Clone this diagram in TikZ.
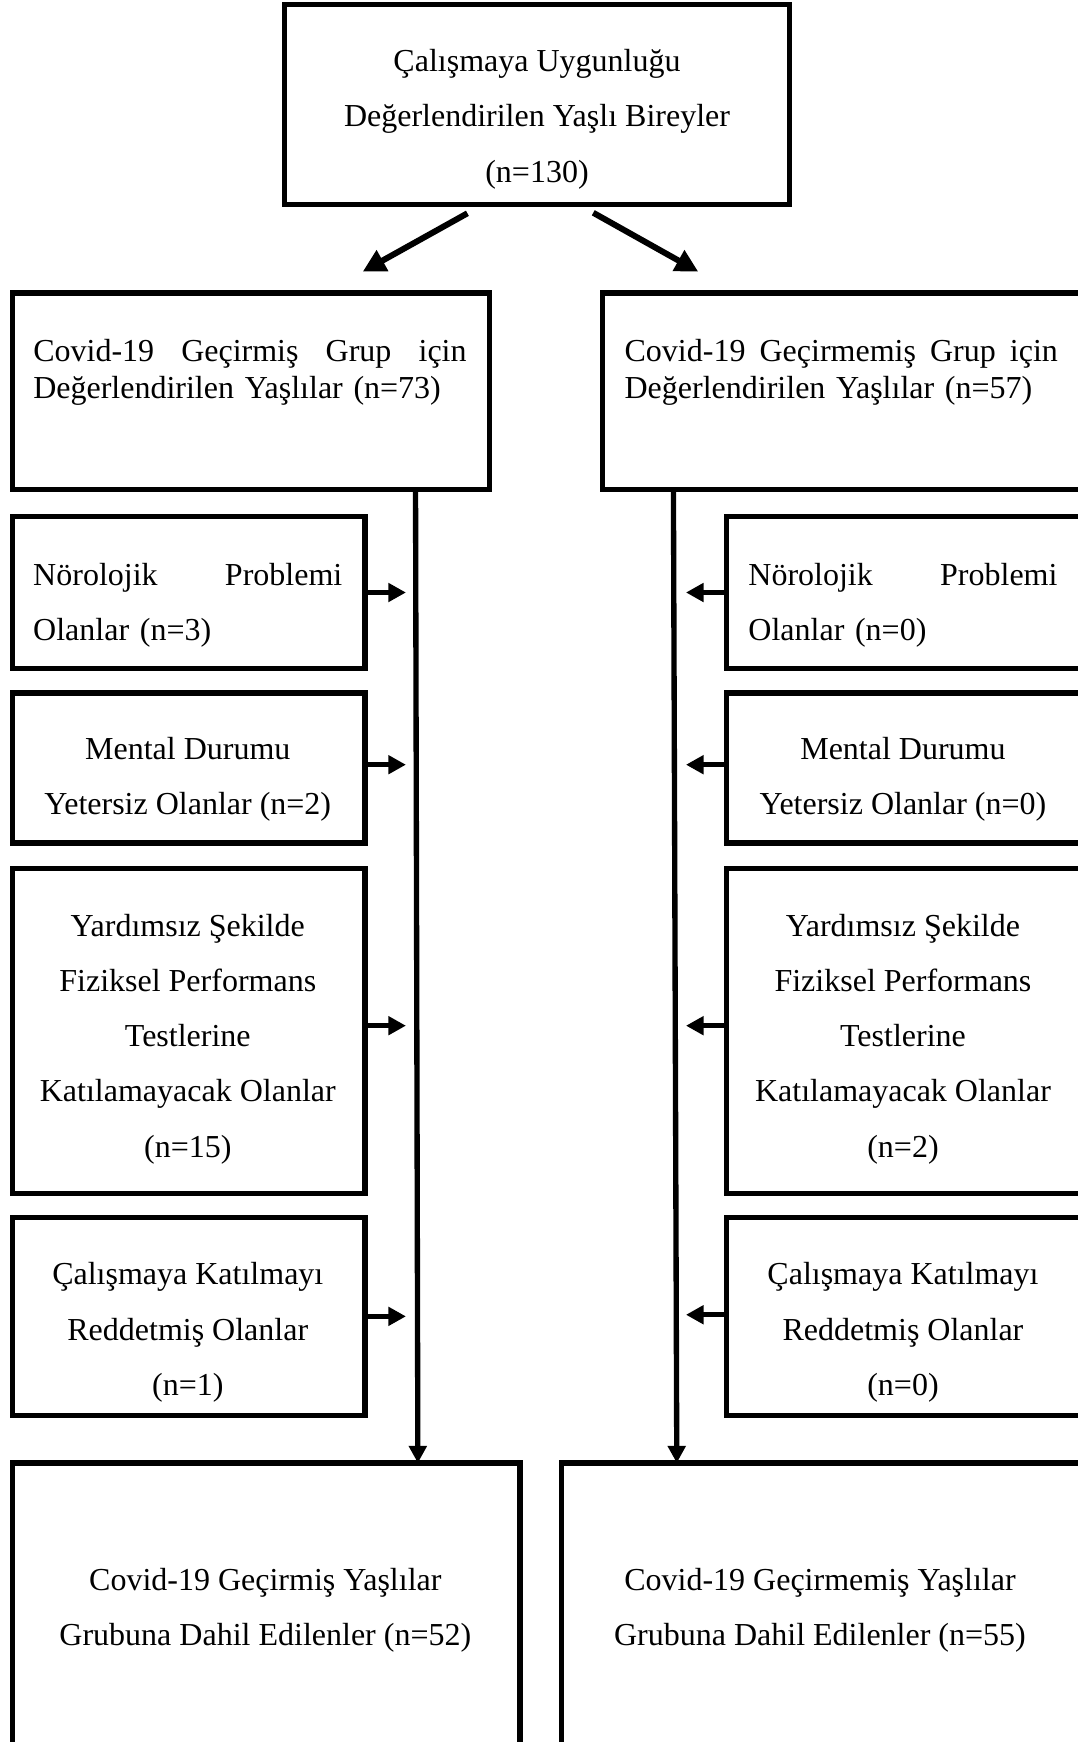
\documentclass[tikz,border=0pt]{standalone}
\usepackage{fontspec}
\setmainfont{Liberation Serif}
\usetikzlibrary{arrows.meta,positioning}

\tikzset{
    box/.style={draw, line width=2pt, inner sep=0pt, outer sep=0pt},
    txt/.style={inner sep=0pt, align=center, font=\fontsize{12}{20.7}\selectfont},
    jtxt/.style={inner sep=0pt, text width=115.9pt, align=left, font=\fontsize{12}{20.7}\selectfont},
    grptxt/.style={inner sep=0pt, text width=162.5pt, align=left, font=\fontsize{12}{13.9}\selectfont},
    bigarrow/.style={line width=2.25pt, -{Triangle[length=8.5pt,width=8.5pt]}},
    flow/.style={line width=2pt, -{Triangle[length=6.4pt,width=6.5pt]}},
    side/.style={line width=2pt, -{Triangle[length=6.6pt,width=6.8pt]}}
}

\begin{document}
\begin{tikzpicture}[x=0.375pt, y=-0.375pt]
        \clip (0,0) rectangle (1078,1742);

        % Top box
        \node[box, minimum width=189.5pt, minimum height=74.8pt] (top) at (537,104.5) {};
        \node[txt] (toptxt) at ([yshift=-5.5pt]top.center) {Çalışmaya Uygunluğu\\Değerlendirilen Yaşlı Bireyler\\(n=130)};

        % Group boxes
        \node[box, minimum width=178.7pt, minimum height=73.7pt] (grp1) at (251,391.2) {};
        \node[box, minimum width=180pt, minimum height=73.7pt] (grp2) at (842.5,391.2) {};
        \node[grptxt] (grp1txt) at ([xshift=-0.4pt, yshift=6.9pt]grp1.center) {Covid-19\hfill Geçirmiş\hfill Grup\hfill için\\Değerlendirilen Yaşlılar (n=73)};
        \node[grptxt] (grp2txt) at ([xshift=-0.45pt, yshift=6.9pt]grp2.center) {Covid-19\hfill Geçirmemiş\hfill Grup\hfill için\\Değerlendirilen Yaşlılar (n=57)};

        % Excluded, left column
        \node[box, minimum width=132.1pt, minimum height=57pt] (nrl1) at (188.85,592.5) {};
        \node[box, minimum width=132.1pt, minimum height=56.3pt] (mnt1) at (188.85,767.9) {};
        \node[box, minimum width=132.1pt, minimum height=121.8pt] (phy1) at (188.85,1030.75) {};
        \node[box, minimum width=132.1pt, minimum height=74.2pt] (ref1) at (188.85,1316.35) {};
        \node[jtxt] (nrl1txt) at ([xshift=-0.4pt, yshift=-4.8pt]nrl1.center) {Nörolojik\hfill Problemi\\Olanlar (n=3)};
        \node[txt] (mnt1txt) at ([xshift=-0.4pt, yshift=-4.3pt]mnt1.center) {Mental Durumu\\Yetersiz Olanlar (n=2)};
        \node[txt] (phy1txt) at ([xshift=-0.4pt, yshift=-3.1pt]phy1.center) {Yardımsız Şekilde\\Fiziksel Performans\\Testlerine\\Katılamayacak Olanlar\\(n=15)};
        \node[txt] (ref1txt) at ([xshift=-0.4pt, yshift=-6pt]ref1.center) {Çalışmaya Katılmayı\\Reddetmiş Olanlar\\(n=1)};

        % Excluded, right column
        \node[box, minimum width=135pt, minimum height=57pt] (nrl2) at (906.7,592.5) {};
        \node[box, minimum width=135pt, minimum height=56.3pt] (mnt2) at (906.7,767.9) {};
        \node[box, minimum width=135pt, minimum height=121.8pt] (phy2) at (906.7,1030.75) {};
        \node[box, minimum width=135pt, minimum height=74.2pt] (ref2) at (906.7,1316.35) {};
        \node[jtxt] (nrl2txt) at ([xshift=-1.4pt, yshift=-4.8pt]nrl2.center) {Nörolojik\hfill Problemi\\Olanlar (n=0)};
        \node[txt] (mnt2txt) at ([xshift=-1.4pt, yshift=-4.3pt]mnt2.center) {Mental Durumu\\Yetersiz Olanlar (n=0)};
        \node[txt] (phy2txt) at ([xshift=-1.4pt, yshift=-3.1pt]phy2.center) {Yardımsız Şekilde\\Fiziksel Performans\\Testlerine\\Katılamayacak Olanlar\\(n=2)};
        \node[txt] (ref2txt) at ([xshift=-1.4pt, yshift=-6pt]ref2.center) {Çalışmaya Katılmayı\\Reddetmiş Olanlar\\(n=0)};

        % Included groups
        \node[box, minimum width=190.3pt, minimum height=111.4pt] (out1) at (266.4,1611.5) {};
        \node[box, minimum width=198.1pt, minimum height=111.4pt] (out2) at (825.85,1611.5) {};
        \node[txt] (out1txt) at ([xshift=-0.4pt, yshift=0.5pt]out1.center) {Covid-19 Geçirmiş Yaşlılar\\Grubuna Dahil Edilenler (n=52)};
        \node[txt] (out2txt) at ([xshift=-2.2pt, yshift=0.5pt]out2.center) {Covid-19 Geçirmemiş Yaşlılar\\Grubuna Dahil Edilenler (n=55)};

        % Split arrows
        \draw[bigarrow] ([xshift=-26.1pt, yshift=-3.4pt]top.south) -- ([xshift=41.9pt, yshift=8pt]grp1.north);
        \draw[bigarrow] ([xshift=21.1pt, yshift=-3.2pt]top.south) -- ([xshift=-54.1pt, yshift=8pt]grp2.north);

        % Main flow lines
        \coordinate (l1top) at ([xshift=61.7pt]grp1.south);
        \coordinate (l1bot) at ([xshift=56.8pt]out1.north);
        \coordinate (l2top) at ([xshift=-63.4pt]grp2.south);
        \coordinate (l2bot) at ([xshift=-55.9pt]out2.north);
        \draw[flow] (l1top) -- (l1bot);
        \draw[flow] (l2top) -- (l2bot);

        % Exclusion arrows
        \draw[side, shorten >=3.6pt] (nrl1.east) -- (nrl1.east -| l1top);
        \draw[side, shorten >=3.6pt] ([yshift=1.2pt]mnt1.east) -- ([yshift=1.2pt]mnt1.east -| l1top);
        \draw[side, shorten >=3.6pt] ([yshift=1.9pt]phy1.east) -- ([yshift=1.9pt]phy1.east -| l1top);
        \draw[side, shorten >=3.6pt] (ref1.east) -- (ref1.east -| l1top);
        \draw[side, shorten >=4.7pt] (nrl2.west) -- (nrl2.west -| l2top);
        \draw[side, shorten >=4.7pt] ([yshift=1.2pt]mnt2.west) -- ([yshift=1.2pt]mnt2.west -| l2top);
        \draw[side, shorten >=4.7pt] ([yshift=1.9pt]phy2.west) -- ([yshift=1.9pt]phy2.west -| l2top);
        \draw[side, shorten >=4.7pt] ([yshift=0.6pt]ref2.west) -- ([yshift=0.6pt]ref2.west -| l2top);
    \end{tikzpicture}
\end{document}
